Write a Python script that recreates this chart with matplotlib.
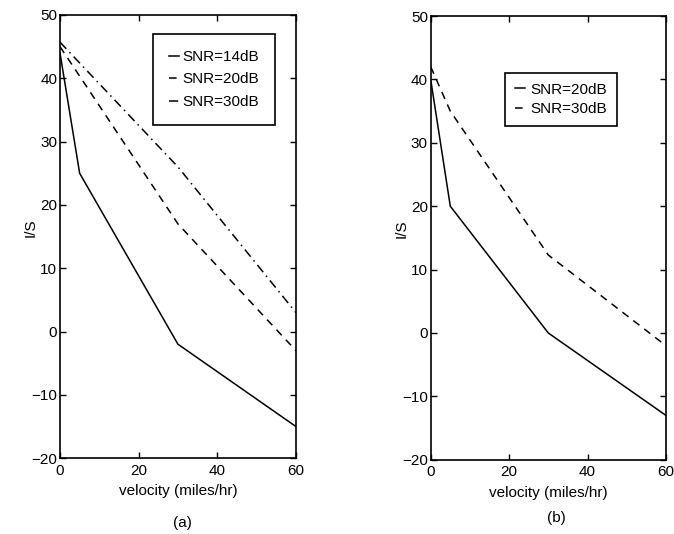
import matplotlib.pyplot as plt

plt.rcParams['font.family'] = ['Liberation Sans', 'DejaVu Sans']
plt.rcParams['font.size'] = 11

# (a) velocity breakpoints and I/S values
vel_a = [0, 5, 30, 60]
snr14_a = [44, 25, -2, -15]
vel_a2 = [0, 30, 60]
snr20_a = [45, 17, -3]
snr30_a = [45.7, 26, 3]

# (b)
vel_b = [0, 5, 30, 60]
snr20_b = [40, 20, 0, -13]
snr30_b = [42, 35, 12.3, -2]

fig = plt.figure(figsize=(6.74, 5.34), dpi=100)
ax1 = fig.add_axes([0.089, 0.142, 0.350, 0.830])
ax2 = fig.add_axes([0.639, 0.139, 0.349, 0.831])

ax1.plot(vel_a, snr14_a, 'k-', lw=1.1, label='SNR=14dB')
ax1.plot(vel_a2, snr20_a, 'k--', lw=1.1, dashes=(5, 4), label='SNR=20dB')
ax1.plot(vel_a2, snr30_a, 'k-.', lw=1.1, dashes=(6, 3, 1, 3), label='SNR=30dB')

ax2.plot(vel_b, snr20_b, 'k-', lw=1.1, label='SNR=20dB')
ax2.plot(vel_b, snr30_b, 'k--', lw=1.1, dashes=(5, 4), label='SNR=30dB')

for ax in (ax1, ax2):
    ax.set_xlim(0, 60)
    ax.set_ylim(-20, 50)
    ax.set_xticks([0, 20, 40, 60])
    ax.set_yticks(range(-20, 51, 10))
    ax.tick_params(direction='in', top=True, right=True, length=4, width=1, labelsize=11)
    ax.tick_params(axis='x', pad=4)
    ax.tick_params(axis='y', pad=2)
    for s in ax.spines.values():
        s.set_linewidth(1.2)
    ax.set_xlabel('velocity (miles/hr)')
    ax.set_ylabel('I/S')
    ax.xaxis.set_label_coords(0.5, -0.058)
    ax.yaxis.set_label_coords(-0.095, 0.52)

leg1 = ax1.legend(loc='upper right', bbox_to_anchor=(0.911, 0.957), handlelength=0.65,
                  handletextpad=0.2, fancybox=False, edgecolor='k', framealpha=1,
                  borderpad=1.05, labelspacing=0.55, borderaxespad=0)
leg2 = ax2.legend(loc='upper right', bbox_to_anchor=(0.791, 0.872), handlelength=0.65,
                  handletextpad=0.35, fancybox=False, edgecolor='k', framealpha=1,
                  borderpad=0.65, labelspacing=0.35, borderaxespad=0)
for leg in (leg1, leg2):
    leg.get_frame().set_linewidth(1.2)

fig.text(0.27, 0.021, '(a)', ha='center', va='center')
fig.text(0.826, 0.030, '(b)', ha='center', va='center')

fig.savefig('out.png', dpi=100)
